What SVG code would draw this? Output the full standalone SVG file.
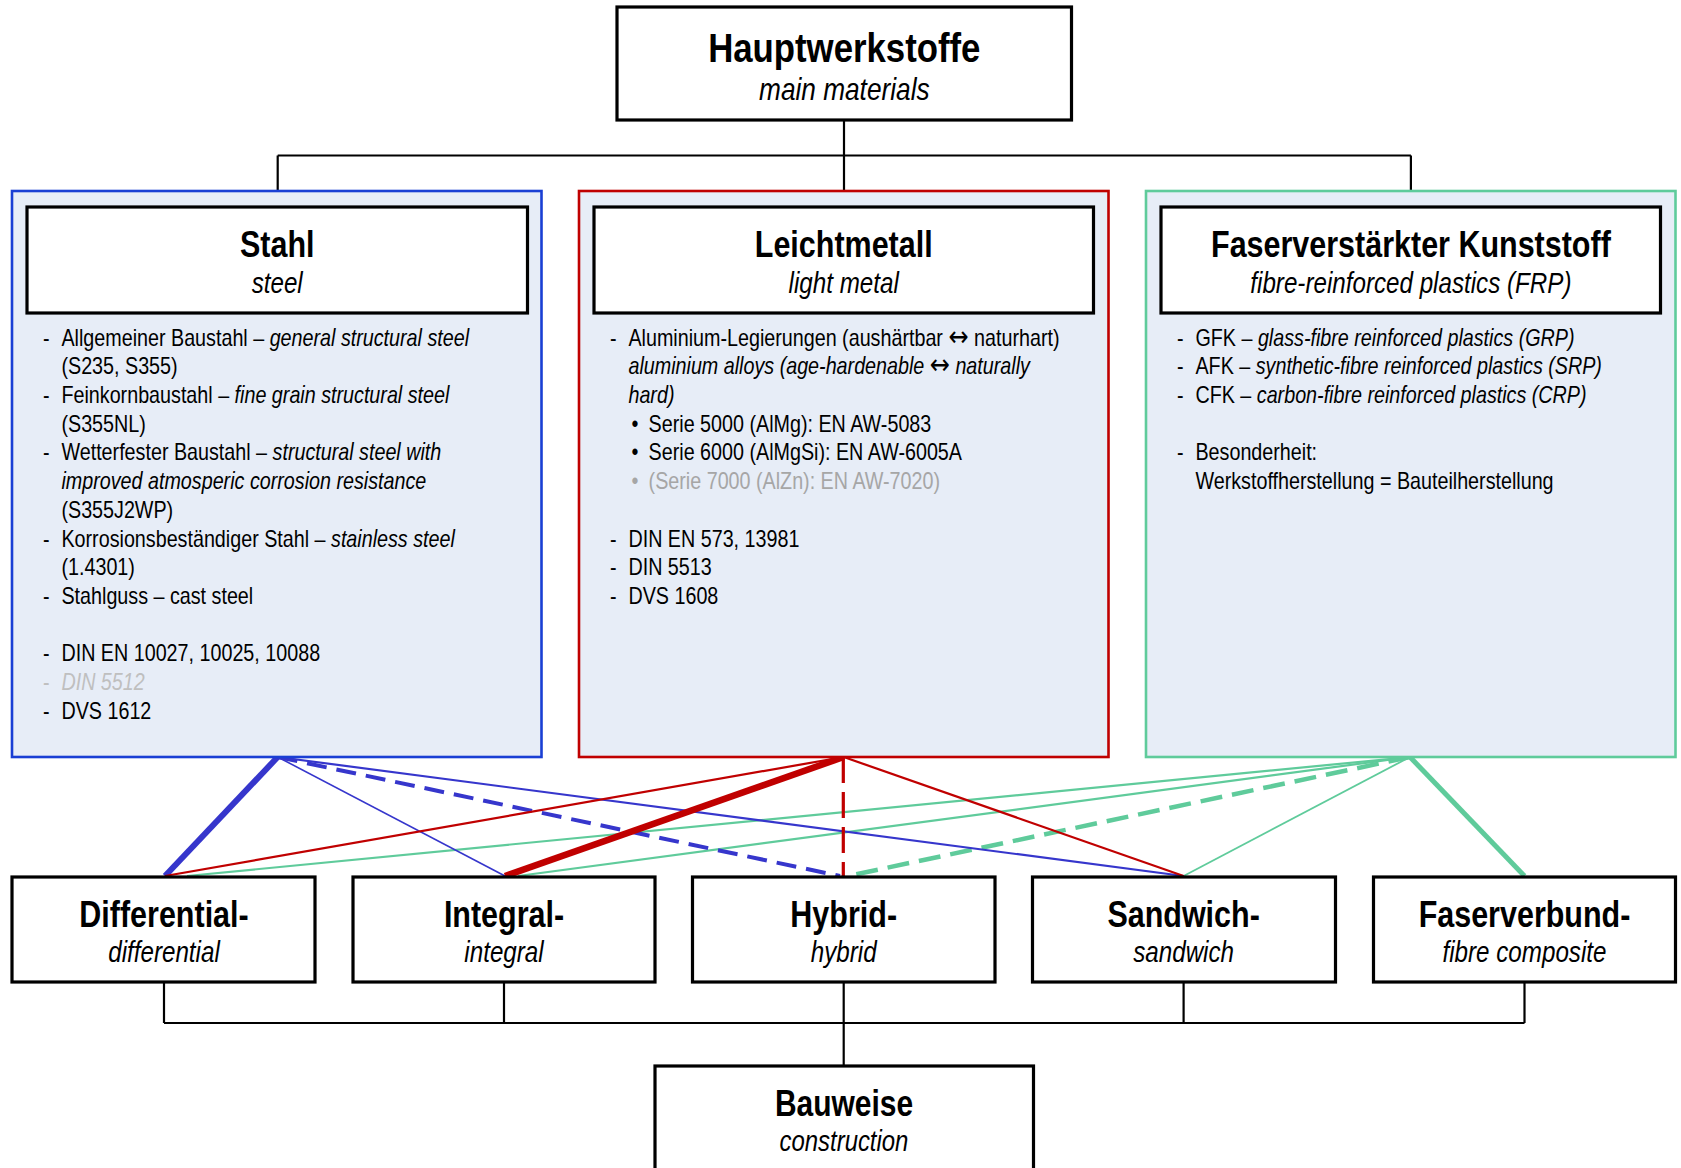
<svg xmlns="http://www.w3.org/2000/svg" width="1681" height="1168" viewBox="0 0 1681 1168">
<style>
text{font-family:'Liberation Sans',Arial,sans-serif;fill:#000}
.t0{font-size:41px;font-weight:bold;text-anchor:middle}
.s0{font-size:32px;font-style:italic;text-anchor:middle}
.h{font-size:37px;font-weight:bold;text-anchor:middle}
.s{font-size:29.5px;font-style:italic;text-anchor:middle}
.b{font-size:23px}
.i{font-style:italic}
.ar{font-family:'DejaVu Sans',sans-serif;font-style:normal;font-size:28px}
.g1{fill:#bfbfbf}
.g2{fill:#a6a6a6}
.tree{stroke:#000;stroke-width:2.2;fill:none}
.box{fill:#fff;stroke:#000;stroke-width:3.2}
.cat{fill:#e7edf7;stroke-width:2.6}
.bl{stroke:#3636cc;fill:none}
.rd{stroke:#c00000;fill:none}
.gr{stroke:#5fcb9b;fill:none}
</style>

<g id="connectors">
  <path class="tree" d="M844,120 V191 M277.7,155.5 H1410.9 M277.7,155.5 V191 M1410.9,155.5 V191"/>
  <path class="tree" d="M164,982 V1023 M504,982 V1023 M1183.6,982 V1023 M1524.5,982 V1023 M164,1023 H1524.5 M843.7,982 V1023"/>
  <path class="tree" stroke-width="3" d="M843.7,1023 V1066"/>
  <line class="gr" stroke-width="2.2" x1="1410" y1="757" x2="187" y2="876"/>
  <line class="gr" stroke-width="2.2" x1="1410" y1="757" x2="518" y2="876"/>
  <line class="gr" stroke-width="4.5" stroke-dasharray="22 10" x1="1410" y1="757" x2="848" y2="876"/>
  <line class="gr" stroke-width="1.8" x1="1410" y1="757" x2="1183.6" y2="876"/>
  <line class="gr" stroke-width="5" x1="1410" y1="757" x2="1524.5" y2="876"/>
  <line class="bl" stroke-width="6" x1="277.7" y1="757" x2="165" y2="876"/>
  <line class="bl" stroke-width="1.6" x1="277.7" y1="757" x2="505" y2="876"/>
  <line class="bl" stroke-width="4" stroke-dasharray="20 10" x1="277.7" y1="757" x2="840" y2="876"/>
  <line class="bl" stroke-width="2.2" x1="277.7" y1="757" x2="1183.6" y2="876"/>
  <line class="rd" stroke-width="2.2" x1="843.7" y1="757" x2="165" y2="876"/>
  <line class="rd" stroke-width="6.5" x1="843.7" y1="757" x2="505" y2="876"/>
  <line class="rd" stroke-width="3.2" stroke-dasharray="26 9" x1="843.3" y1="757" x2="843.3" y2="876"/>
  <line class="rd" stroke-width="2.2" x1="843.7" y1="757" x2="1183.6" y2="876"/>
</g>

<g id="hauptwerkstoffe">
  <rect class="box" x="617" y="7" width="454.5" height="113"/>
  <text class="t0" transform="translate(844.3,62) scale(0.848,1)">Hauptwerkstoffe</text>
  <text class="s0" transform="translate(844.3,100) scale(0.82,1)">main materials</text>
</g>

<g id="stahl">
  <rect class="cat" stroke="#1a3fd4" x="12" y="191" width="529.5" height="566"/>
  <rect class="box" stroke-width="3.6" x="27" y="207" width="500.5" height="106"/>
  <text class="h" transform="translate(277.2,257) scale(0.824,1)">Stahl</text>
  <text class="s" transform="translate(277.2,293) scale(0.82,1)">steel</text>
  <g transform="translate(43,0) scale(0.858,1)">
    <text class="b" x="0" y="345.7">-</text>
    <text class="b" x="21.5" y="345.7">Allgemeiner Baustahl – <tspan class="i">general structural steel</tspan></text>
    <text class="b" x="21.5" y="374.4">(S235, S355)</text>
    <text class="b" x="0" y="403.1">-</text>
    <text class="b" x="21.5" y="403.1">Feinkornbaustahl – <tspan class="i">fine grain structural steel</tspan></text>
    <text class="b" x="21.5" y="431.8">(S355NL)</text>
    <text class="b" x="0" y="460.5">-</text>
    <text class="b" x="21.5" y="460.5">Wetterfester Baustahl – <tspan class="i">structural steel with</tspan></text>
    <text class="b i" x="21.5" y="489.2">improved atmosperic corrosion resistance</text>
    <text class="b" x="21.5" y="517.9">(S355J2WP)</text>
    <text class="b" x="0" y="546.6">-</text>
    <text class="b" x="21.5" y="546.6">Korrosionsbeständiger Stahl – <tspan class="i">stainless steel</tspan></text>
    <text class="b" x="21.5" y="575.3">(1.4301)</text>
    <text class="b" x="0" y="604">-</text>
    <text class="b" x="21.5" y="604">Stahlguss – cast steel</text>
    <text class="b" x="0" y="661.4">-</text>
    <text class="b" x="21.5" y="661.4">DIN EN 10027, 10025, 10088</text>
    <text class="b g1" x="0" y="690.1">-</text>
    <text class="b i g1" x="21.5" y="690.1">DIN 5512</text>
    <text class="b" x="0" y="718.8">-</text>
    <text class="b" x="21.5" y="718.8">DVS 1612</text>
  </g>
</g>

<g id="leichtmetall">
  <rect class="cat" stroke="#c00000" x="579" y="191" width="529.5" height="566"/>
  <rect class="box" stroke-width="3.6" x="594" y="207" width="499.5" height="106"/>
  <text class="h" transform="translate(843.7,257) scale(0.824,1)">Leichtmetall</text>
  <text class="s" transform="translate(843.7,293) scale(0.82,1)">light metal</text>
  <g transform="translate(610,0) scale(0.858,1)">
    <text class="b" x="0" y="345.7">-</text>
    <text class="b" x="21.5" y="345.7">Aluminium-Legierungen (aushärtbar <tspan class="ar">↔</tspan> naturhart)</text>
    <text class="b i" x="21.5" y="374.4">aluminium alloys (age-hardenable <tspan class="ar">↔</tspan> naturally</text>
    <text class="b i" x="21.5" y="403.1">hard)</text>
    <text class="b" x="25" y="431.8">•</text>
    <text class="b" x="45" y="431.8">Serie 5000 (AlMg): EN AW-5083</text>
    <text class="b" x="25" y="460.5">•</text>
    <text class="b" x="45" y="460.5">Serie 6000 (AlMgSi): EN AW-6005A</text>
    <text class="b g2" x="25" y="489.2">•</text>
    <text class="b g2" x="45" y="489.2">(Serie 7000 (AlZn): EN AW-7020)</text>
    <text class="b" x="0" y="546.6">-</text>
    <text class="b" x="21.5" y="546.6">DIN EN 573, 13981</text>
    <text class="b" x="0" y="575.3">-</text>
    <text class="b" x="21.5" y="575.3">DIN 5513</text>
    <text class="b" x="0" y="604">-</text>
    <text class="b" x="21.5" y="604">DVS 1608</text>
  </g>
</g>

<g id="frp">
  <rect class="cat" stroke="#5fcb9b" x="1146" y="191" width="529.5" height="566"/>
  <rect class="box" stroke-width="3.6" x="1161" y="207" width="499.5" height="106"/>
  <text class="h" transform="translate(1410.9,257) scale(0.824,1)">Faserverstärkter Kunststoff</text>
  <text class="s" transform="translate(1410.9,293) scale(0.82,1)">fibre-reinforced plastics (FRP)</text>
  <g transform="translate(1177,0) scale(0.858,1)">
    <text class="b" x="0" y="345.7">-</text>
    <text class="b" x="21.5" y="345.7">GFK – <tspan class="i">glass-fibre reinforced plastics (GRP)</tspan></text>
    <text class="b" x="0" y="374.4">-</text>
    <text class="b" x="21.5" y="374.4">AFK – <tspan class="i">synthetic-fibre reinforced plastics (SRP)</tspan></text>
    <text class="b" x="0" y="403.1">-</text>
    <text class="b" x="21.5" y="403.1">CFK – <tspan class="i">carbon-fibre reinforced plastics (CRP)</tspan></text>
    <text class="b" x="0" y="460.5">-</text>
    <text class="b" x="21.5" y="460.5">Besonderheit:</text>
    <text class="b" x="21.5" y="489.2">Werkstoffherstellung = Bauteilherstellung</text>
  </g>
</g>

<g id="differential">
  <rect class="box" stroke="#1a3fd4" x="12" y="877" width="303" height="105"/>
  <text class="h" transform="translate(164,927) scale(0.824,1)">Differential-</text>
  <text class="s" transform="translate(164,962) scale(0.82,1)">differential</text>
</g>
<g id="integral">
  <rect class="box" stroke="#c00000" x="353" y="877" width="302" height="105"/>
  <text class="h" transform="translate(504,927) scale(0.824,1)">Integral-</text>
  <text class="s" transform="translate(504,962) scale(0.82,1)">integral</text>
</g>
<g id="hybrid">
  <rect class="box" x="692.5" y="877" width="302.5" height="105"/>
  <text class="h" transform="translate(843.7,927) scale(0.824,1)">Hybrid-</text>
  <text class="s" transform="translate(843.7,962) scale(0.82,1)">hybrid</text>
</g>
<g id="sandwich">
  <rect class="box" x="1032.5" y="877" width="303" height="105"/>
  <text class="h" transform="translate(1183.6,927) scale(0.824,1)">Sandwich-</text>
  <text class="s" transform="translate(1183.6,962) scale(0.82,1)">sandwich</text>
</g>
<g id="faserverbund">
  <rect class="box" stroke="#5fcb9b" x="1373.5" y="877" width="302" height="105"/>
  <text class="h" transform="translate(1524.5,927) scale(0.824,1)">Faserverbund-</text>
  <text class="s" transform="translate(1524.5,962) scale(0.82,1)">fibre composite</text>
</g>
<g id="bauweise">
  <rect class="box" x="655" y="1066" width="378.5" height="130"/>
  <text class="h" transform="translate(844,1116) scale(0.81,1)">Bauweise</text>
  <text class="s" transform="translate(844,1151) scale(0.81,1)">construction</text>
</g>
</svg>
